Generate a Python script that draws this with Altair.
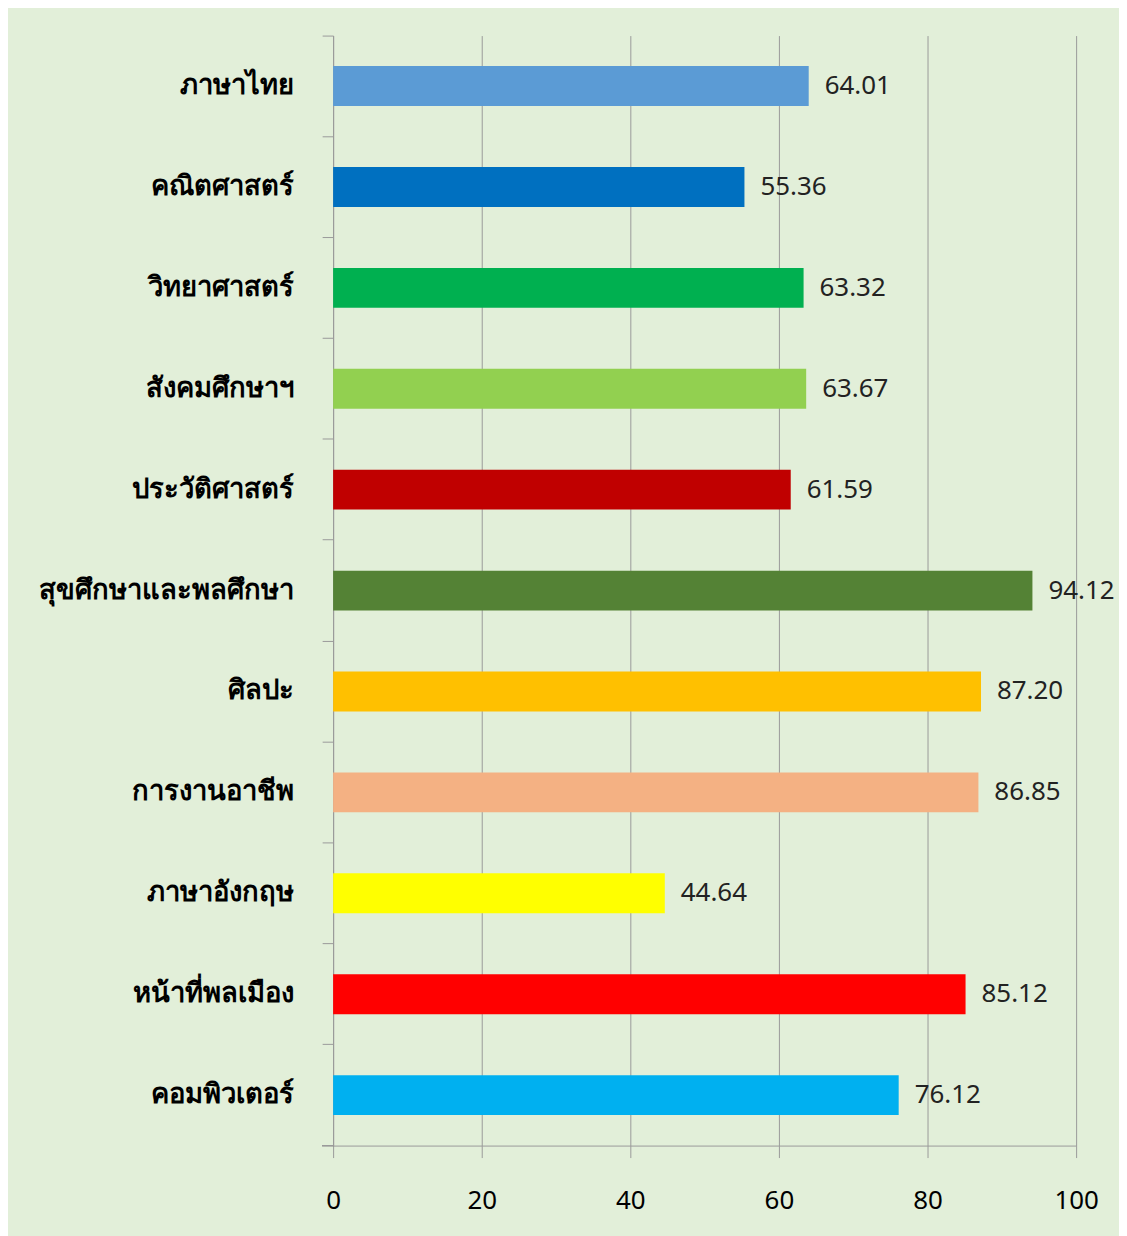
import altair as alt
import pandas as pd

subjects = ["ภาษาไทย", "คณิตศาสตร์", "วิทยาศาสตร์", "สังคมศึกษาฯ", "ประวัติศาสตร์",
            "สุขศึกษาและพลศึกษา", "ศิลปะ", "การงานอาชีพ", "ภาษาอังกฤษ",
            "หน้าที่พลเมือง", "คอมพิวเตอร์"]
scores = [64.01, 55.36, 63.32, 63.67, 61.59, 94.12, 87.20, 86.85, 44.64, 85.12, 76.12]
colors = ["#5B9BD5", "#0070C0", "#00B050", "#92D050", "#C00000", "#548235",
          "#FFC000", "#F4B183", "#FFFF00", "#FF0000", "#00B0F0"]
x_ticks = [0, 20, 40, 60, 80, 100]

df = pd.DataFrame({"subject": subjects, "score": scores, "color": colors})

FONT = "Noto Sans"
GRAY = "#9A9A9A"

y_enc = alt.Y("subject:N", sort=subjects,
              scale=alt.Scale(paddingInner=0, paddingOuter=0),
              axis=alt.Axis(title=None, bandPosition=0, tickSize=11, tickColor=GRAY,
                            domainColor=GRAY, labelFont=FONT, labelFontSize=27.5,
                            labelFontWeight="bold", labelColor="#000000",
                            labelPadding=29, grid=False, labelLimit=400))
x_enc = alt.X("score:Q", scale=alt.Scale(domain=[0, 100], nice=False),
              axis=alt.Axis(title=None, values=x_ticks, tickSize=12, tickColor=GRAY,
                            domainColor=GRAY, grid=True, gridColor=GRAY,
                            labelFont=FONT, labelFontSize=26, labelColor="#000000",
                            labelPadding=30, labelFlush=False))

bars = alt.Chart(df).mark_bar(size=40).encode(
    x=x_enc, y=y_enc,
    color=alt.Color("color:N", scale=None, legend=None)
)

labels = alt.Chart(df).mark_text(align="left", baseline="middle", dx=16,
                                 font=FONT, fontSize=26, color="#222222").encode(
    x="score:Q", y=alt.Y("subject:N", sort=subjects),
    text=alt.Text("score:Q", format=".2f")
)

corner = alt.Chart(df).mark_rule(color=GRAY, strokeWidth=1).encode(
    x=alt.value(-11), x2=alt.value(0), y=alt.value(1113)
)

chart = alt.layer(bars, labels, corner).properties(
    width=745, height=1113,
    background="#E2EFD9",
    autosize=alt.AutoSizeParams(type="none"),
    padding={"left": 326, "top": 26, "right": 43, "bottom": 89}
).configure_view(stroke=None)

chart.save("out.html", embed_options={"renderer": "svg", "actions": False})
